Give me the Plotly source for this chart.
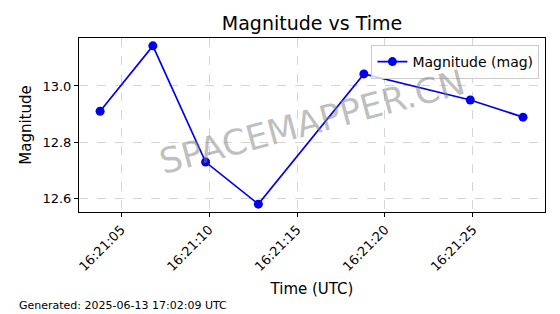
import plotly.graph_objects as go

times = ["2025-06-13 16:21:03.8", "2025-06-13 16:21:06.8", "2025-06-13 16:21:09.8",
         "2025-06-13 16:21:12.8", "2025-06-13 16:21:18.8", "2025-06-13 16:21:24.85",
         "2025-06-13 16:21:27.85"]
magnitudes = [12.91, 13.143, 12.729, 12.579, 13.043, 12.95, 12.889]
tick_vals = ["2025-06-13 16:21:05", "2025-06-13 16:21:10", "2025-06-13 16:21:15",
             "2025-06-13 16:21:20", "2025-06-13 16:21:25"]
tick_text = ["16:21:05", "16:21:10", "16:21:15", "16:21:20", "16:21:25"]
y_ticks = [12.6, 12.8, 13.0]

FONT = "DejaVu Sans"

fig = go.Figure()
fig.add_trace(go.Scatter(
    x=times, y=magnitudes, mode="lines+markers", name="Magnitude (mag)",
    line=dict(color="#0000ee", width=1.7),
    marker=dict(color="#0000ee", size=9),
))

fig.update_layout(
    width=560, height=314,
    margin=dict(l=79, r=15, t=38, b=102),
    paper_bgcolor="white", plot_bgcolor="white",
    font=dict(family=FONT, color="black", size=12),
    title=dict(text="Magnitude vs Time", xref="paper", x=0.5, xanchor="center",
               y=0.925, yanchor="middle",
               font=dict(family=FONT, size=19, color="black")),
    showlegend=True,
    legend=dict(x=0.988, y=0.96, xanchor="right", yanchor="top",
                bgcolor="rgba(255,255,255,0.8)", bordercolor="#cccccc", borderwidth=1,
                font=dict(family=FONT, size=14)),
    xaxis=dict(
        range=["2025-06-13 16:21:02.6", "2025-06-13 16:21:29.1"],
        tickmode="array", tickvals=tick_vals, ticktext=tick_text, tickangle=-45,
        showline=True, linecolor="black", linewidth=1, mirror=True,
        ticks="outside", ticklen=4, tickcolor="black",
        showgrid=True, gridcolor="#d4d4d4", griddash="dash", gridwidth=0.8,
        zeroline=False,
        tickfont=dict(family=FONT, size=13),
        title=dict(text="Time (UTC)", font=dict(family=FONT, size=15), standoff=10),
    ),
    yaxis=dict(
        range=[12.551, 13.171],
        tickmode="array", tickvals=y_ticks, ticktext=["12.6", "12.8", "13.0"],
        showline=True, linecolor="black", linewidth=1, mirror=True,
        ticks="outside", ticklen=4, tickcolor="black",
        showgrid=True, gridcolor="#d4d4d4", griddash="dash", gridwidth=0.8,
        zeroline=False,
        tickfont=dict(family=FONT, size=13),
        title=dict(text="Magnitude", font=dict(family=FONT, size=15), standoff=7),
    ),
)

fig.add_annotation(text="SPACEMAPPER.CN", xref="paper", yref="paper", x=0.5, y=0.52,
                   showarrow=False, textangle=-15,
                   font=dict(family=FONT, size=35, color="rgba(128,128,128,0.5)"))
fig.add_annotation(text="Generated: 2025-06-13 17:02:09 UTC", xref="paper", yref="paper",
                   x=-0.133, y=-0.535, xanchor="left", yanchor="middle", showarrow=False,
                   font=dict(family=FONT, size=11, color="black"))

fig.write_html("out.html")
